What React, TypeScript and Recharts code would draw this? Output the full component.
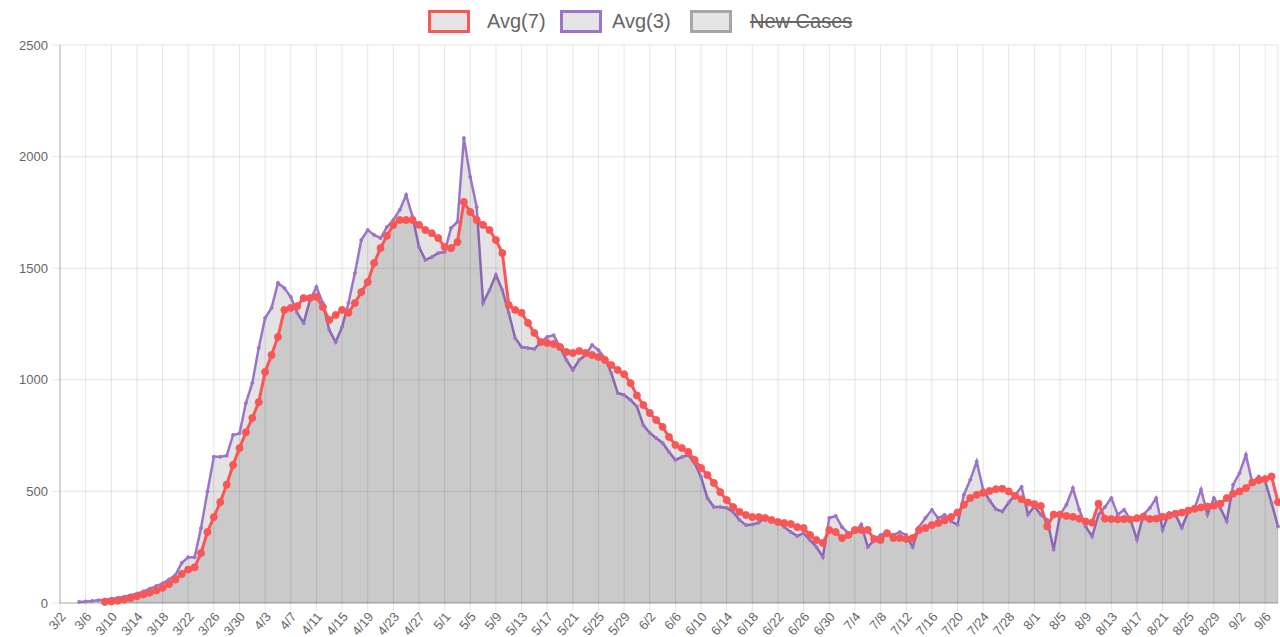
import React from "react";
import { AreaChart, Area, XAxis, YAxis, CartesianGrid } from "recharts";

const dates = [
  "3/2","3/3","3/4","3/5","3/6","3/7","3/8","3/9","3/10","3/11","3/12","3/13","3/14","3/15","3/16","3/17","3/18","3/19","3/20","3/21","3/22","3/23","3/24","3/25","3/26","3/27","3/28","3/29","3/30","3/31",
  "4/1","4/2","4/3","4/4","4/5","4/6","4/7","4/8","4/9","4/10","4/11","4/12","4/13","4/14","4/15","4/16","4/17","4/18","4/19","4/20","4/21","4/22","4/23","4/24","4/25","4/26","4/27","4/28","4/29","4/30",
  "5/1","5/2","5/3","5/4","5/5","5/6","5/7","5/8","5/9","5/10","5/11","5/12","5/13","5/14","5/15","5/16","5/17","5/18","5/19","5/20","5/21","5/22","5/23","5/24","5/25","5/26","5/27","5/28","5/29","5/30","5/31",
  "6/1","6/2","6/3","6/4","6/5","6/6","6/7","6/8","6/9","6/10","6/11","6/12","6/13","6/14","6/15","6/16","6/17","6/18","6/19","6/20","6/21","6/22","6/23","6/24","6/25","6/26","6/27","6/28","6/29","6/30",
  "7/1","7/2","7/3","7/4","7/5","7/6","7/7","7/8","7/9","7/10","7/11","7/12","7/13","7/14","7/15","7/16","7/17","7/18","7/19","7/20","7/21","7/22","7/23","7/24","7/25","7/26","7/27","7/28","7/29","7/30","7/31",
  "8/1","8/2","8/3","8/4","8/5","8/6","8/7","8/8","8/9","8/10","8/11","8/12","8/13","8/14","8/15","8/16","8/17","8/18","8/19","8/20","8/21","8/22","8/23","8/24","8/25","8/26","8/27","8/28","8/29","8/30","8/31",
  "9/1","9/2","9/3","9/4","9/5","9/6","9/7","9/8"
];

const avg3: (number | null)[] = [
  null, null, null, 5, 7, 9, 12, 15, 19, 23,
  28, 35, 42, 52, 64, 76, 88, 105, 125, 180,
  205, 205, 336, 499, 655, 655, 660, 753, 760, 896,
  986, 1143, 1277, 1322, 1434, 1411, 1371, 1300, 1255, 1357,
  1416, 1344, 1223, 1169, 1236, 1344, 1478, 1626, 1671, 1649,
  1635, 1685, 1716, 1761, 1828, 1730, 1595, 1537, 1550, 1568,
  1573, 1680, 1707, 2083, 1909, 1774, 1344, 1402, 1470, 1402,
  1300, 1187, 1147, 1142, 1138, 1169, 1192, 1200, 1147, 1089,
  1044, 1089, 1111, 1156, 1133, 1098, 1030, 941, 932, 910,
  880, 797, 762, 739, 717, 677, 641, 654, 663, 627,
  564, 470, 430, 430, 426, 408, 372, 349, 352, 360,
  385, 372, 363, 340, 318, 300, 313, 282, 251, 206,
  381, 390, 340, 313, 318, 352, 251, 282, 305, 313,
  305, 318, 305, 251, 340, 381, 417, 380, 395, 366,
  351, 485, 552, 634, 508, 460, 420, 410, 450, 485,
  520, 396, 433, 396, 373, 239, 396, 440, 515, 418,
  343, 298, 396, 430, 470, 396, 418, 373, 284, 396,
  426, 470, 328, 404, 396, 337, 410, 426, 508, 396,
  470, 426, 366, 530, 582, 664, 537, 567, 545, 448,
  343
];

const avg7: (number | null)[] = [
  null, null, null, null, null, null, null, 5, 7, 10,
  15, 22, 30, 38, 46, 56, 68, 85, 105, 130,
  150, 160, 224, 318, 385, 452, 530, 618, 694, 765,
  829, 900, 1035, 1111, 1192, 1313, 1322, 1330, 1366, 1366,
  1371, 1326, 1268, 1290, 1313, 1300, 1344, 1393, 1438, 1523,
  1590, 1645, 1694, 1716, 1716, 1716, 1694, 1671, 1657, 1635,
  1595, 1590, 1617, 1797, 1752, 1716, 1694, 1671, 1626, 1568,
  1335, 1313, 1300, 1255, 1210, 1169, 1165, 1160, 1147, 1125,
  1120, 1129, 1120, 1111, 1102, 1089, 1066, 1044, 1025, 985,
  930, 887, 851, 820, 789, 744, 708, 694, 677, 641,
  605, 573, 538, 497, 461, 430, 408, 394, 385, 385,
  381, 372, 363, 358, 354, 340, 336, 305, 282, 269,
  327, 318, 291, 305, 327, 327, 327, 287, 282, 313,
  291, 291, 287, 291, 327, 336, 349, 358, 370, 385,
  405, 440, 470, 485, 494, 502, 510, 512, 500, 480,
  465, 450, 443, 435, 343, 396, 396, 390, 386, 378,
  365, 360, 445, 378, 376, 375, 376, 374, 380, 386,
  376, 378, 386, 392, 400, 405, 414, 422, 428, 432,
  436, 445, 470, 490, 500, 515, 540, 550, 555, 567,
  452
];

const yTicks = [0, 500, 1000, 1500, 2000, 2500];

const data = dates.map((d, i) => ({ date: d, avg3: avg3[i], avg7: avg7[i] }));

const FONT = "'Helvetica Neue', Helvetica, Arial, 'Liberation Sans', sans-serif";
const RED = "#f95656";
const PURPLE = "#9d74c8";

const XTick = (props: any) => {
  const { x, y, payload } = props;
  return (
    <g transform={`translate(${x + 3},${y + 1})`}>
      <text
        x={0}
        y={0}
        dy="0.35em"
        textAnchor="end"
        transform="rotate(-50)"
        fill="#666"
        fontSize={13}
        fontFamily={FONT}
      >
        {payload.value}
      </text>
    </g>
  );
};

const legendItems = [
  { label: "Avg(7)", color: RED, boxLeft: 428, textLeft: 487, strike: false },
  { label: "Avg(3)", color: PURPLE, boxLeft: 560, textLeft: 612, strike: false },
  { label: "New Cases", color: "#a6a6a6", boxLeft: 690, textLeft: 750, strike: true },
];

export default function App() {
  return (
    <div style={{ position: "absolute", left: 0, top: 0, width: 1280, height: 637, background: "#fff" }}>
      <AreaChart
        width={1280}
        height={637}
        data={data}
        margin={{ top: 45, right: 2, bottom: 0, left: 0 }}
      >
        <CartesianGrid stroke="rgba(0,0,0,0.1)" strokeWidth={1} />
        <XAxis
          dataKey="date"
          interval={3}
          height={34}
          tick={<XTick />}
          tickSize={8}
          tickLine={{ stroke: "rgba(0,0,0,0.1)" }}
          axisLine={{ stroke: "rgba(0,0,0,0.25)" }}
        />
        <YAxis
          width={60}
          domain={[0, 2500]}
          ticks={yTicks}
          interval={0}
          tickSize={8}
          tickMargin={4}
          tickLine={{ stroke: "rgba(0,0,0,0.1)" }}
          axisLine={{ stroke: "rgba(0,0,0,0.25)" }}
          tick={{ fill: "#666", fontSize: 13, fontFamily: FONT }}
        />
        <Area
          type="linear"
          dataKey="avg3"
          stroke={PURPLE}
          strokeWidth={2.5}
          fill="rgba(0,0,0,0.11)"
          fillOpacity={1}
          dot={{ r: 1.5, fill: PURPLE, stroke: PURPLE, strokeWidth: 1 }}
          activeDot={false}
          isAnimationActive={false}
        />
        <Area
          type="linear"
          dataKey="avg7"
          stroke={RED}
          strokeWidth={3}
          fill="rgba(0,0,0,0.11)"
          fillOpacity={1}
          dot={{ r: 3.5, fill: RED, stroke: RED, strokeWidth: 1 }}
          activeDot={false}
          isAnimationActive={false}
        />
      </AreaChart>
      {legendItems.map((it) => (
        <React.Fragment key={it.label}>
          <div
            style={{
              position: "absolute",
              left: it.boxLeft,
              top: 10,
              width: 36,
              height: 17,
              border: `3px solid ${it.color}`,
              background: "rgba(0,0,0,0.1)",
            }}
          />
          <div
            style={{
              position: "absolute",
              left: it.textLeft,
              top: 8,
              fontSize: 20,
              lineHeight: "26px",
              fontFamily: FONT,
              color: "#666",
              textDecoration: it.strike ? "line-through" : "none",
              whiteSpace: "nowrap",
            }}
          >
            {it.label}
          </div>
        </React.Fragment>
      ))}
    </div>
  );
}
